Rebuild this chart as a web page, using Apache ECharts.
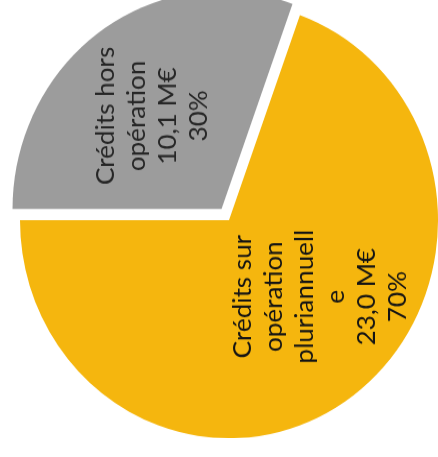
<!DOCTYPE html>
<html>
<head>
<meta charset="utf-8">
<script src="https://cdn.jsdelivr.net/npm/echarts@6/dist/echarts.min.js"></script>
<style>
  html, body { margin: 0; padding: 0; background: #ffffff; overflow: hidden; }
  /* square drawing area, stretched to the 438x457 frame */
  #chart { width: 438px; height: 438px; transform: scaleY(1.0434); transform-origin: 0 0; }
</style>
</head>
<body>
<div id="chart"></div>
<script>
// Budget split (M€) and the shares printed under each amount
const categories = ['Crédits hors\nopération', 'Crédits sur\nopération\npluriannuell\ne'];
const amounts = [10.1, 23.0];
const shareLabels = ['30%', '70%'];
const sliceColors = ['#9c9c9c', '#f5b60e'];
const textColors = ['#262626', '#141414'];

// Label nudges in the label's own (rotated) frame, in pixels
const labelNudge = [[1.3, -7.4], [14.7, 29.4]];

const chart = echarts.init(document.getElementById('chart'), null, { renderer: 'canvas' });

const data = categories.map((name, i) => ({
  name: name,
  value: amounts[i],
  selected: i === 0,
  itemStyle: { color: sliceColors[i] },
  label: { color: textColors[i] }
}));

chart.setOption({
  animation: false,
  backgroundColor: '#ffffff',
  series: [{
    type: 'pie',
    center: [229, 211],
    radius: [0, 209],
    startAngle: 180,
    clockwise: true,
    selectedMode: 'single',
    selectedOffset: 13,
    avoidLabelOverlap: false,
    silent: true,
    itemStyle: { borderWidth: 0 },
    select: { itemStyle: { borderWidth: 0 } },
    label: {
      show: true,
      position: 'inside',
      rotate: 90,
      fontFamily: 'Lato',
      fontSize: 25,
      lineHeight: 31,
      align: 'center',
      formatter: function (p) {
        return p.name + '\n' + amounts[p.dataIndex].toFixed(1).replace('.', ',') + ' M€\n' + shareLabels[p.dataIndex];
      }
    },
    labelLine: { show: false },
    labelLayout: function (p) {
      const n = labelNudge[p.dataIndex];
      return { dx: n[0], dy: n[1] };
    },
    data: data
  }]
});
</script>
</body>
</html>
